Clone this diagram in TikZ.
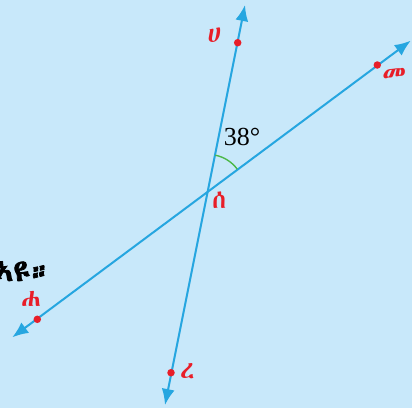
\documentclass[tikz,border=0pt]{standalone}
\usepackage{fontspec}
\newfontfamily\ethfont{Abyssinica SIL}
\newfontfamily\ethbold[FakeBold=2.5]{Abyssinica SIL}
\newfontfamily\angfont{Liberation Serif}
\usetikzlibrary{arrows.meta,calc}
\definecolor{bgblue}{RGB}{200,232,250}
\definecolor{lineblue}{RGB}{38,166,224}
\definecolor{ptred}{RGB}{232,30,40}
\definecolor{arcgreen}{RGB}{76,184,72}
\tikzset{
  ray/.style={draw=lineblue, line width=2pt, {Latex[length=16pt,width=13pt]}-{Latex[length=16pt,width=13pt]}},
  dot/.style={circle, fill=ptred, inner sep=0pt, minimum size=7.5pt},
  lbl/.style={text=ptred, font=\ethfont\fontsize{25}{25}\selectfont, inner sep=0pt},
}
\begin{document}
\begin{tikzpicture}[x=1pt,y=-1pt]
\fill[bgblue] (0,0) rectangle (412,408);
\useasboundingbox (0,0) rectangle (412,408);
\coordinate (t1) at (245,5);
\coordinate (b1) at (165,405);
\coordinate (t2) at (410.7,40.7);
\coordinate (b2) at (12.3,337.3);
\coordinate (S) at (208.3,190.5);
\draw[ray] (b1) -- (t1);
\draw[ray] (b2) -- (t2);
\draw[arcgreen, line width=1.4pt] ($(S)!36pt!(t1)$) coordinate (a1) arc[start angle=-78.7, end angle=-36.4, radius=36];
\node[dot] (pH) at (237.7,42.7) {};
\node[dot] (pM) at (377.3,65) {};
\node[dot] (pHa) at (37.3,319.3) {};
\node[dot] (pR) at (171,372.7) {};
\node[lbl] (lH) at (214.3,35) {ሀ};
\node[lbl] (lM) at (394,75.7) {መ};
\node[lbl] (lS) at (219.3,200) {ሰ};
\node[lbl] (lR) at (187.3,370.7) {ረ};
\node[lbl] (lHa) at (31,299.3) {ሐ};
\node[font=\angfont\fontsize{26}{26}\selectfont, inner sep=0pt] (ang) at (242,136.5) {38°};
\node[font=\ethbold\fontsize{30}{30}\selectfont, anchor=base east, inner sep=0pt] (txt) at (52,281) {ኣዩ።};
\end{tikzpicture}
\end{document}
